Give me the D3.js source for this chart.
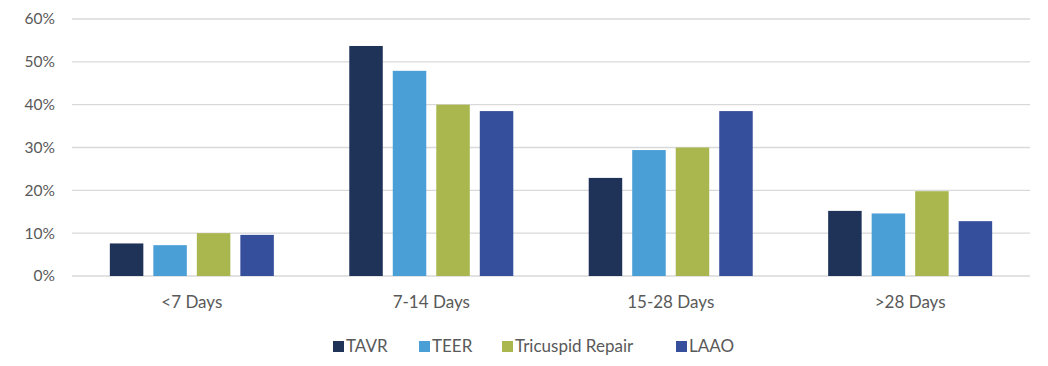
<!DOCTYPE html>
<html>
<head>
<meta charset="utf-8">
<script src="https://cdn.jsdelivr.net/npm/d3@7"></script>
<style>
  body { margin: 0; background: #fff; }
  text { font-family: Lato, "Open Sans", sans-serif; fill: #595959; }
</style>
</head>
<body>
<div id="chart"></div>
<script>
// categories and series (percent values)
var categories = ["<7 Days", "7-14 Days", "15-28 Days", ">28 Days"];
var seriesNames = ["TAVR", "TEER", "Tricuspid Repair", "LAAO"];
var tavr = [7.6, 53.7, 22.9, 15.2];
var teer = [7.2, 47.9, 29.4, 14.6];
var tricuspid = [10.0, 40.0, 30.0, 19.8];
var laao = [9.6, 38.5, 38.5, 12.8];
var yTicks = [0, 10, 20, 30, 40, 50, 60];

var colors = ["#1f3359", "#4a9fd6", "#a9b74e", "#364f9c"];
var seriesValues = [tavr, teer, tricuspid, laao];

var svgWidth = 1048;
var svgHeight = 366;
var margin = { top: 19, right: 18, bottom: 90, left: 72 };
var width = svgWidth - margin.left - margin.right;
var height = svgHeight - margin.top - margin.bottom;

var svg = d3.select("#chart")
  .append("svg")
  .attr("width", svgWidth)
  .attr("height", svgHeight);

var chartGroup = svg.append("g")
  .attr("transform", `translate(${margin.left}, ${margin.top})`);

var x0 = d3.scaleBand()
  .domain(categories)
  .range([0, width])
  .paddingInner(0.315)
  .paddingOuter(0.158);

var x1 = d3.scaleBand()
  .domain(seriesNames)
  .range([0, x0.bandwidth()])
  .paddingInner(0.23);

var y = d3.scaleLinear()
  .domain([0, 60])
  .range([height, 0]);

// gridlines
chartGroup.append("g")
  .selectAll("line")
  .data(yTicks)
  .enter()
  .append("line")
  .attr("x1", 0)
  .attr("x2", width)
  .attr("y1", d => y(d))
  .attr("y2", d => y(d))
  .attr("stroke", "#d9d9d9")
  .attr("stroke-width", 1.3);

// y axis labels
var leftAxis = d3.axisLeft(y)
  .tickValues(yTicks)
  .tickFormat(d => d + "%")
  .tickSize(0)
  .tickPadding(17);

chartGroup.append("g")
  .call(leftAxis)
  .call(g => g.select(".domain").remove())
  .selectAll("text")
  .attr("font-size", "15.5px")
  .attr("fill", "#595959");

// bars
var groups = chartGroup.selectAll(".cat")
  .data(categories)
  .enter()
  .append("g")
  .attr("transform", d => `translate(${x0(d)}, 0)`);

groups.selectAll("rect")
  .data((c, i) => seriesNames.map((s, j) => ({ s: s, v: seriesValues[j][i], j: j })))
  .enter()
  .append("rect")
  .attr("x", d => x1(d.s))
  .attr("y", d => y(d.v))
  .attr("width", x1.bandwidth())
  .attr("height", d => height - y(d.v))
  .attr("fill", d => colors[d.j]);

// x axis
var bottomAxis = d3.axisBottom(x0).tickSize(0).tickPadding(20);
chartGroup.append("g")
  .attr("transform", `translate(0, ${height})`)
  .call(bottomAxis)
  .call(g => g.select(".domain").remove())
  .selectAll("text")
  .attr("font-size", "17px")
  .attr("fill", "#595959");

// legend
var legendX = [333, 419, 502, 676];
var legend = svg.append("g");
var items = legend.selectAll("g")
  .data(seriesNames)
  .enter()
  .append("g")
  .attr("transform", (d, i) => `translate(${legendX[i]}, 341)`);

items.append("rect")
  .attr("width", 11)
  .attr("height", 11)
  .attr("fill", (d, i) => colors[i]);

items.append("text")
  .attr("x", 13)
  .attr("y", 11)
  .attr("font-size", "17px")
  .text(d => d);
</script>
</body>
</html>
